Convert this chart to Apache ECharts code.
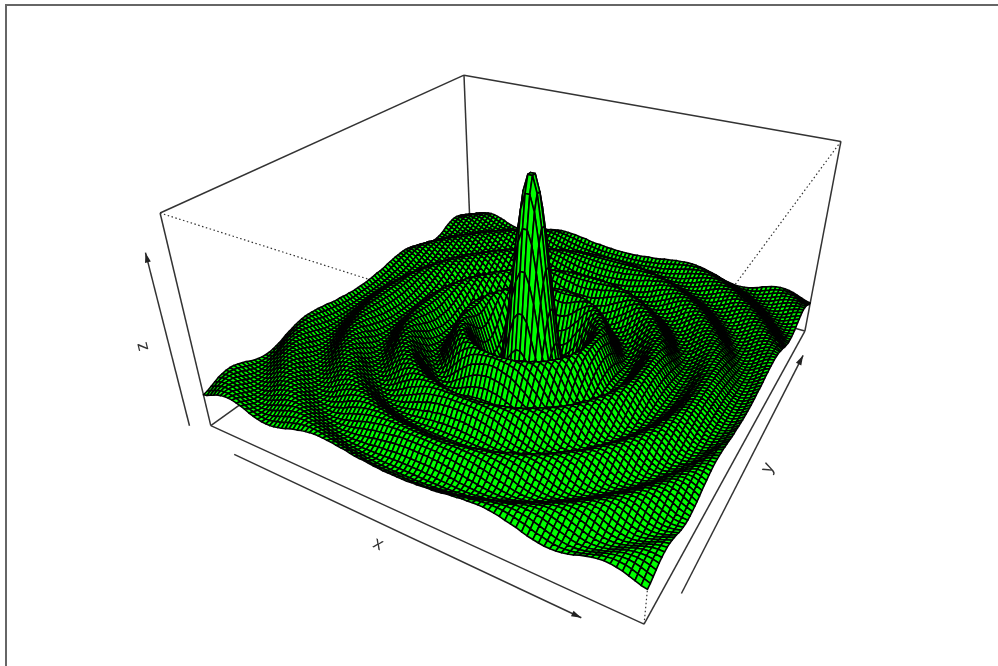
<!DOCTYPE html>
<html>
<head>
<meta charset="utf-8">
<style>html,body{margin:0;padding:0;background:#fff;overflow:hidden}#c{width:998px;height:666px}</style>
<script src="https://cdn.jsdelivr.net/npm/echarts@6/dist/echarts.min.js"></script>
</head>
<body>
<div id="c"></div>
<script>
// Surface heights: the picture is a surface of revolution, so heights are read along the radius.
// radiusHeightsFine: radius 0 to 10, every 0.05. radiusHeightsCoarse: radius 10.1 to 35.4, every 0.1.
const radiusHeightsFine = [10,10,9.98,9.96,9.93,9.9,9.85,9.8,9.74,9.67,9.59,9.5,9.41,9.31,9.2,9.09,8.97,8.84,8.7,8.56,
8.41,8.26,8.1,7.94,7.77,7.59,7.41,7.23,7.04,6.85,6.65,6.45,6.25,6.04,5.83,5.62,5.41,5.2,4.98,4.76,
4.55,4.33,4.11,3.89,3.68,3.46,3.24,3.03,2.81,2.6,2.39,2.19,1.98,1.78,1.58,1.39,1.2,1.01,.82,.65,
.47,.3,.13,-.03,-.18,-.33,-.48,-.62,-.75,-.88,-1,-1.12,-1.23,-1.33,-1.43,-1.52,-1.61,-1.69,-1.76,-1.83,
-1.89,-1.95,-2,-2.04,-2.08,-2.11,-2.13,-2.15,-2.16,-2.17,-2.17,-2.17,-2.16,-2.15,-2.13,-2.1,-2.08,-2.04,-2,-1.96,
-1.92,-1.87,-1.82,-1.76,-1.7,-1.64,-1.57,-1.5,-1.43,-1.36,-1.28,-1.21,-1.13,-1.05,-.97,-.88,-.8,-.72,-.63,-.55,
-.47,-.38,-.3,-.22,-.13,-.05,.03,.11,.18,.26,.33,.4,.47,.54,.6,.67,.73,.78,.84,.89,
.94,.98,1.03,1.07,1.1,1.14,1.17,1.19,1.21,1.23,1.25,1.26,1.27,1.28,1.28,1.28,1.28,1.27,1.26,1.25,
1.24,1.22,1.2,1.17,1.15,1.12,1.09,1.05,1.02,.98,.94,.9,.85,.81,.76,.71,.67,.61,.56,.51,
.46,.41,.35,.3,.24,.19,.13,.08,.03,-.03,-.08,-.13,-.18,-.23,-.28,-.33,-.37,-.42,-.46,-.5,-.54];
const radiusHeightsCoarse = [-.62,-.69,-.75,-.8,-.84,-.87,-.89,-.91,-.91,-.91,-.9,-.87,-.84,-.81,-.76,-.71,-.65,-.59,-.52,-.45,
-.37,-.29,-.21,-.13,-.05,.03,.11,.18,.25,.32,.39,.45,.5,.55,.6,.63,.66,.68,.7,.71,
.71,.7,.69,.67,.65,.61,.58,.53,.49,.43,.38,.32,.26,.2,.13,.07,.01,-.06,-.12,-.18,
-.24,-.29,-.34,-.39,-.43,-.47,-.5,-.53,-.55,-.57,-.58,-.58,-.58,-.57,-.56,-.54,-.52,-.49,-.45,-.42,
-.38,-.33,-.29,-.24,-.19,-.13,-.08,-.03,.03,.08,.13,.18,.23,.27,.31,.35,.38,.41,.44,.46,
.47,.48,.49,.49,.49,.48,.46,.45,.42,.4,.37,.34,.3,.26,.22,.18,.13,.09,.04,0,
-.05,-.09,-.14,-.18,-.22,-.25,-.29,-.32,-.35,-.37,-.39,-.4,-.41,-.42,-.43,-.42,-.42,-.41,-.4,-.38,
-.36,-.33,-.31,-.27,-.24,-.21,-.17,-.13,-.09,-.05,-.01,.03,.07,.1,.14,.18,.21,.24,.27,.29,
.32,.33,.35,.36,.37,.37,.37,.37,.35,.34,.32,.3,.28,.25,.23,.2,.16,.13,.1,.06,
.03,-.01,-.04,-.08,-.11,-.14,-.17,-.2,-.23,-.25,-.27,-.29,-.31,-.32,-.33,-.33,-.34,-.33,-.33,-.32,
-.31,-.3,-.28,-.26,-.24,-.21,-.19,-.16,-.13,-.1,-.07,-.04,-.01,.03,.06,.09,.12,.15,.17,.2,
.22,.24,.26,.27,.28,.29,.3,.3,.3,.3,.29,.29,.27,.26,.24,.22,.2,.18,.16,.13,
.1,.07,.05,.02,-.01,-.04,-.07,-.1,-.12,-.15,-.17,-.19,-.21];
const xRange = [-25, 25];
const yRange = [-25, 25];
const cellsPerSide = 91;
const axisTitles = ['x', 'y', 'z'];

function heightAt(r) {
  if (r <= 10) return radiusHeightsFine[Math.round(r / 0.05)];
  const k = Math.round((r - 10.1) / 0.1);
  return radiusHeightsCoarse[Math.max(0, Math.min(radiusHeightsCoarse.length - 1, k))];
}

// the height of every grid vertex, and the z range they span
const step = (xRange[1] - xRange[0]) / cellsPerSide;
const gridHeights = [];
let zLow = Infinity, zHigh = -Infinity;
for (let i = 0; i <= cellsPerSide; i++) {
  gridHeights.push([]);
  for (let j = 0; j <= cellsPerSide; j++) {
    const x = xRange[0] + i * step, y = yRange[0] + j * step;
    const h = heightAt(Math.sqrt(x * x + y * y));
    gridHeights[i].push(h);
    zLow = Math.min(zLow, h); zHigh = Math.max(zHigh, h);
  }
}
const zRange = [zLow, zHigh];
const zMid = (zRange[0] + zRange[1]) / 2, zHalf = (zRange[1] - zRange[0]) / 2;

// persp() camera: theta 30, phi 30, expand 0.5
const TH = 30 * Math.PI / 180, PH = 30 * Math.PI / 180, EYE = 3.73, EXPAND = 0.5;
function project(x, y, z) {
  const nx = x / xRange[1], ny = y / yRange[1], nz = (z - zMid) / zHalf * EXPAND;
  const u = nx * Math.cos(TH) + ny * Math.sin(TH);
  const v = -nx * Math.sin(TH) + ny * Math.cos(TH);
  const Y = nz * Math.cos(PH) + v * Math.sin(PH);
  const W = EYE + v * Math.cos(PH) - nz * Math.sin(PH);
  return [u / W, Y / W];
}

// cells, far corner first
const cells = [];
function vertex(i, j) {
  return project(xRange[0] + i * step, yRange[0] + j * step, gridHeights[i][j]);
}
for (let j = cellsPerSide - 1; j >= 0; j--) {
  for (let i = 0; i < cellsPerSide; i++) {
    cells.push([].concat(vertex(i, j), vertex(i + 1, j), vertex(i + 1, j + 1), vertex(i, j + 1)));
  }
}

// box edges
const x0 = xRange[0], x1 = xRange[1], y0 = yRange[0], y1 = yRange[1], z0 = zRange[0], z1 = zRange[1];
const edges = [
  [x0,y0,z1, x1,y0,z1, 1], [x1,y1,z1, x1,y0,z1, 1], [x1,y0,z0, x1,y0,z1, 1],
  [x0,y0,z0, x1,y0,z0, 0], [x1,y0,z0, x1,y1,z0, 0], [x0,y0,z0, x0,y1,z0, 0], [x0,y1,z0, x1,y1,z0, 0],
  [x0,y0,z1, x0,y1,z1, 0], [x0,y1,z1, x1,y1,z1, 0],
  [x0,y0,z0, x0,y0,z1, 0], [x1,y1,z0, x1,y1,z1, 0], [x0,y1,z0, x0,y1,z1, 0]
].map(e => project(e[0],e[1],e[2]).concat(project(e[3],e[4],e[5]), e[6]));

// axis arrows and titles
const arrows = [
  [-19.4,-27,z0, 20.3,-27,z0],
  [26.5,-20.6,z0, 26.2,19.6,z0],
  [-24.1,-28,zMid-0.8*zHalf, -24.1,-28,zMid+0.8*zHalf]
].map(a => project(a[0],a[1],a[2]).concat(project(a[3],a[4],a[5])));
const titlePoints = [project(0.9,-29.1,z0), project(28.3,-1.8,z0), project(-26,-29.5,zMid)];
const titleRotations = [-25, 63, 104];

const SCALE = 860, CX = 531.5, CY = 281;
const chart = echarts.init(document.getElementById('c'), null, {renderer: 'canvas'});
chart.setOption({
  animation: false,
  backgroundColor: '#fff',
  grid: {left: 0, right: 0, top: 0, bottom: 0},
  xAxis: {type: 'value', show: false, min: -CX / SCALE, max: (998 - CX) / SCALE},
  yAxis: {type: 'value', show: false, min: (CY - 666) / SCALE, max: CY / SCALE},
  graphic: [
    {type: 'line', shape: {x1: 5, y1: 5, x2: 998, y2: 5}, style: {stroke: '#333', lineWidth: 1.5}, silent: true},
    {type: 'line', shape: {x1: 6, y1: 5, x2: 6, y2: 666}, style: {stroke: '#666', lineWidth: 2}, silent: true}
  ],
  series: [
    {
      type: 'custom', coordinateSystem: 'cartesian2d', silent: true, clip: false, z: 1, data: edges,
      renderItem: function (p, api) {
        const a = api.coord([api.value(0), api.value(1)]), b = api.coord([api.value(2), api.value(3)]);
        const dotted = api.value(4) === 1;
        return {type: 'line', shape: {x1: a[0], y1: a[1], x2: b[0], y2: b[1]},
          style: {stroke: '#333', lineWidth: dotted ? 1.2 : 1.5, lineDash: dotted ? [1.5, 2.5] : null}};
      }
    },
    {
      type: 'custom', coordinateSystem: 'cartesian2d', silent: true, clip: false, z: 2, progressive: 0, data: cells,
      renderItem: function (p, api) {
        const pts = [];
        for (let k = 0; k < 4; k++) pts.push(api.coord([api.value(2 * k), api.value(2 * k + 1)]));
        return {type: 'polygon', shape: {points: pts},
          style: {fill: '#00ff00', stroke: '#000', lineWidth: 1.6, lineJoin: 'round'}};
      }
    },
    {
      type: 'custom', coordinateSystem: 'cartesian2d', silent: true, clip: false, z: 3, data: arrows,
      renderItem: function (p, api) {
        const a = api.coord([api.value(0), api.value(1)]), b = api.coord([api.value(2), api.value(3)]);
        const dx = b[0] - a[0], dy = b[1] - a[1], L = Math.hypot(dx, dy), ux = dx / L, uy = dy / L;
        const back = [b[0] - 10 * ux, b[1] - 10 * uy];
        return {type: 'group', children: [
          {type: 'line', shape: {x1: a[0], y1: a[1], x2: b[0], y2: b[1]}, style: {stroke: '#333', lineWidth: 1.5}},
          {type: 'polygon', shape: {points: [b, [back[0] - 3 * uy, back[1] + 3 * ux], [back[0] + 3 * uy, back[1] - 3 * ux]]},
            style: {fill: '#222'}}
        ]};
      }
    },
    {
      type: 'custom', coordinateSystem: 'cartesian2d', silent: true, clip: false, z: 4, data: titlePoints,
      renderItem: function (p, api) {
        const c = api.coord([api.value(0), api.value(1)]);
        return {type: 'text', x: c[0], y: c[1], rotation: titleRotations[p.dataIndex] * Math.PI / 180,
          style: {text: axisTitles[p.dataIndex], fill: '#333', align: 'center', verticalAlign: 'middle',
            font: '18px "Liberation Sans"'}};
      }
    }
  ]
});
</script>
</body>
</html>
